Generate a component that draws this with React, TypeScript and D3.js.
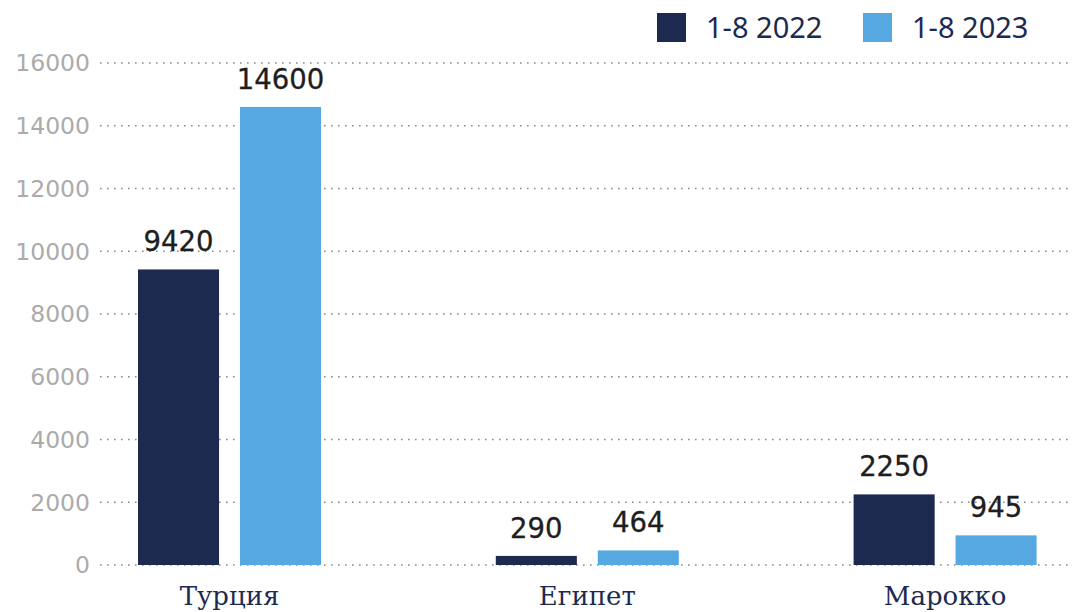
import React from "react";
import * as d3 from "d3";

const categories = ["Турция", "Египет", "Марокко"];
const seriesNames = ["1-8 2022", "1-8 2023"];
const values2022 = [9420, 290, 2250];
const values2023 = [14600, 464, 945];
const yTicks = [0, 2000, 4000, 6000, 8000, 10000, 12000, 14000, 16000];

const W = 1073;
const H = 612;
const colors = ["#1c2a4f", "#55a9e0"];

export default function App() {
  const y = d3.scaleLinear().domain([0, 16000]).range([565, 63]);
  const x0 = d3.scaleBand<string>().domain(categories).range([50.6, 1124]).padding(0);
  const groupW = 183;
  const x1 = d3.scaleBand<string>().domain(seriesNames).range([0, groupW]).paddingInner(0.205).paddingOuter(0);
  const series = [values2022, values2023];

  return (
    <svg width={W} height={H} style={{ position: "absolute", left: 0, top: 0, background: "#fff" }}>
      {yTicks.map((t) => (
        <g key={t}>
          <line x1={100} x2={W} y1={y(t)} y2={y(t)} stroke="#8a8a8a" strokeWidth={1.6} strokeDasharray="1.6,5.4" />
          <text x={90} y={y(t)} dy="0.36em" textAnchor="end" fontFamily="'DejaVu Sans', sans-serif" fontSize={23.5} fill="#ababab">
            {t}
          </text>
        </g>
      ))}
      {categories.map((c, i) => {
        const gx = (x0(c) as number) + x0.bandwidth() / 2 - groupW / 2;
        return (
          <g key={c}>
            {seriesNames.map((s, j) => {
              const v = series[j][i];
              const bx = gx + (x1(s) as number);
              return (
                <g key={s}>
                  <rect x={bx} y={y(v)} width={x1.bandwidth()} height={y(0) - y(v)} fill={colors[j]} />
                  <text x={bx + x1.bandwidth() / 2} y={y(v) - 18} textAnchor="middle" fontFamily="'DejaVu Sans', sans-serif" fontSize={27.5} fill="#1e1e1e" stroke="#1e1e1e" strokeWidth={0.3}>
                    {v}
                  </text>
                </g>
              );
            })}
            <text x={(x0(c) as number) + x0.bandwidth() / 2} y={605} textAnchor="middle" fontFamily="'DejaVu Serif', serif" fontSize={26} fill="#1c2a4f">
              {c}
            </text>
          </g>
        );
      })}
      {seriesNames.map((s, j) => {
        const lx = [657, 863][j];
        return (
          <g key={s}>
            <rect x={lx} y={13} width={29} height={29} fill={colors[j]} />
            <text x={lx + 49} y={38} fontFamily="'Noto Sans', sans-serif" fontSize={29} fill="#1c2a4f">
              {s}
            </text>
          </g>
        );
      })}
    </svg>
  );
}
